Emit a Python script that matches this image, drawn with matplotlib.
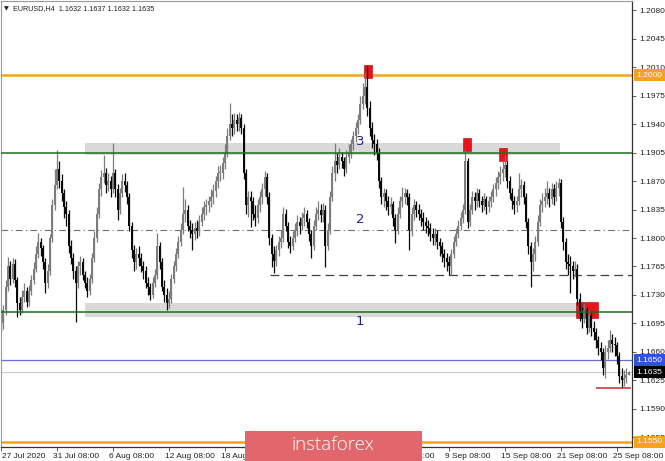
import matplotlib
matplotlib.use('Agg')
import matplotlib.pyplot as plt
import matplotlib.transforms as mtransforms
from matplotlib.patches import Rectangle
import numpy as np

# ---------------- data (EURUSD H4) ----------------
first_open = 1.1705
closes = [
    1.1695, 1.1712, 1.1740, 1.1765, 1.1750, 1.1768,
    1.1748, 1.1720, 1.1712, 1.1728, 1.1735, 1.1722,
    1.1735, 1.1748, 1.1762, 1.1780, 1.1795, 1.1788,
    1.1770, 1.1745, 1.1760, 1.1800, 1.1840, 1.1865,
    1.1885, 1.1870, 1.1855, 1.1838, 1.1830, 1.1790,
    1.1775, 1.1760, 1.1745, 1.1765, 1.1770, 1.1755,
    1.1745, 1.1735, 1.1750, 1.1775, 1.1800, 1.1830,
    1.1860, 1.1875, 1.1880, 1.1865, 1.1870, 1.1860,
    1.1880, 1.1860, 1.1835, 1.1855, 1.1870, 1.1865,
    1.1850, 1.1815, 1.1785, 1.1770, 1.1780, 1.1775,
    1.1765, 1.1760, 1.1745, 1.1740, 1.1730, 1.1745,
    1.1755, 1.1790, 1.1770, 1.1740, 1.1730, 1.1720,
    1.1725, 1.1750, 1.1765, 1.1780, 1.1795, 1.1810,
    1.1830, 1.1835, 1.1815, 1.1810, 1.1805, 1.1812,
    1.1808, 1.1820, 1.1830, 1.1838, 1.1840, 1.1845,
    1.1850, 1.1858, 1.1870, 1.1880, 1.1880, 1.1892,
    1.1905, 1.1925, 1.1940, 1.1935, 1.1945, 1.1940,
    1.1948, 1.1935, 1.1880, 1.1840, 1.1850, 1.1845,
    1.1830, 1.1825, 1.1840, 1.1850, 1.1860, 1.1875,
    1.1850, 1.1800, 1.1780, 1.1772, 1.1785, 1.1795,
    1.1800, 1.1830, 1.1815, 1.1795, 1.1790, 1.1800,
    1.1810, 1.1820, 1.1815, 1.1825, 1.1830, 1.1820,
    1.1805, 1.1790, 1.1815, 1.1830, 1.1835, 1.1828,
    1.1835, 1.1790, 1.1810, 1.1850, 1.1880, 1.1895,
    1.1890, 1.1900, 1.1895, 1.1885, 1.1900, 1.1905,
    1.1915, 1.1925, 1.1935, 1.1945, 1.1965, 1.1975,
    1.1985, 1.1960, 1.1935, 1.1920, 1.1915, 1.1905,
    1.1870, 1.1850, 1.1855, 1.1845, 1.1838, 1.1842,
    1.1825, 1.1810, 1.1830, 1.1845, 1.1850, 1.1855,
    1.1850, 1.1810, 1.1830, 1.1840, 1.1835, 1.1830,
    1.1825, 1.1820, 1.1815, 1.1812, 1.1805, 1.1800,
    1.1805, 1.1795, 1.1790, 1.1780, 1.1775, 1.1770,
    1.1765, 1.1780, 1.1795, 1.1805, 1.1815, 1.1825,
    1.1835, 1.1895, 1.1820, 1.1835, 1.1850, 1.1845,
    1.1855, 1.1845, 1.1840, 1.1848, 1.1838, 1.1845,
    1.1850, 1.1860, 1.1868, 1.1875, 1.1880, 1.1885,
    1.1890, 1.1870, 1.1855, 1.1845, 1.1840, 1.1845,
    1.1860, 1.1865, 1.1850, 1.1820, 1.1790, 1.1770,
    1.1780, 1.1795, 1.1820, 1.1840, 1.1845, 1.1850,
    1.1855, 1.1848, 1.1860, 1.1850, 1.1862, 1.1868,
    1.1820, 1.1795, 1.1770, 1.1768, 1.1765, 1.1760,
    1.1762, 1.1725, 1.1708, 1.1700, 1.1712, 1.1690,
    1.1705, 1.1690, 1.1685, 1.1675, 1.1665, 1.1660,
    1.1640, 1.1660, 1.1665, 1.1675, 1.1670, 1.1668,
    1.1655, 1.1630, 1.1625, 1.1628, 1.1632, 1.1635,
]
highs = [
    1.1712, 1.1718, 1.1748, 1.1777, 1.1772, 1.1776,
    1.1774, 1.1752, 1.1728, 1.1736, 1.1745, 1.1740,
    1.1742, 1.1755, 1.1770, 1.1790, 1.1806, 1.1800,
    1.1792, 1.1775, 1.1768, 1.1805, 1.1848, 1.1885,
    1.1908, 1.1895, 1.1878, 1.1860, 1.1845, 1.1835,
    1.1798, 1.1782, 1.1765, 1.1772, 1.1778, 1.1775,
    1.1760, 1.1752, 1.1756, 1.1782, 1.1808, 1.1838,
    1.1868, 1.1884, 1.1902, 1.1886, 1.1880, 1.1876,
    1.1917, 1.1885, 1.1866, 1.1862, 1.1878, 1.1880,
    1.1870, 1.1855, 1.1820, 1.1792, 1.1788, 1.1790,
    1.1782, 1.1772, 1.1765, 1.1752, 1.1745, 1.1752,
    1.1762, 1.1806, 1.1795, 1.1775, 1.1748, 1.1738,
    1.1735, 1.1756, 1.1772, 1.1788, 1.1802, 1.1818,
    1.1863, 1.1848, 1.1840, 1.1822, 1.1818, 1.1820,
    1.1822, 1.1828, 1.1838, 1.1845, 1.1848, 1.1852,
    1.1860, 1.1866, 1.1876, 1.1888, 1.1890, 1.1900,
    1.1915, 1.1935, 1.1966, 1.1952, 1.1953, 1.1952,
    1.1955, 1.1952, 1.1940, 1.1885, 1.1858, 1.1858,
    1.1850, 1.1840, 1.1848, 1.1858, 1.1868, 1.1882,
    1.1880, 1.1856, 1.1805, 1.1790, 1.1792, 1.1802,
    1.1810, 1.1838, 1.1836, 1.1820, 1.1802, 1.1808,
    1.1818, 1.1828, 1.1826, 1.1832, 1.1838, 1.1835,
    1.1825, 1.1810, 1.1822, 1.1838, 1.1845, 1.1842,
    1.1843, 1.1840, 1.1818, 1.1858, 1.1888, 1.1917,
    1.1905, 1.1910, 1.1906, 1.1900, 1.1908, 1.1915,
    1.1922, 1.1932, 1.1942, 1.1952, 1.1975, 1.1990,
    1.2003, 1.2011, 1.1968, 1.1942, 1.1928, 1.1922,
    1.1910, 1.1875, 1.1862, 1.1860, 1.1852, 1.1850,
    1.1846, 1.1830, 1.1838, 1.1852, 1.1863, 1.1862,
    1.1860, 1.1855, 1.1838, 1.1848, 1.1846, 1.1842,
    1.1836, 1.1832, 1.1826, 1.1822, 1.1818, 1.1812,
    1.1812, 1.1810, 1.1800, 1.1795, 1.1786, 1.1782,
    1.1778, 1.1786, 1.1802, 1.1812, 1.1822, 1.1832,
    1.1842, 1.1908, 1.1898, 1.1842, 1.1858, 1.1856,
    1.1862, 1.1860, 1.1852, 1.1855, 1.1852, 1.1852,
    1.1858, 1.1866, 1.1875, 1.1882, 1.1888, 1.1895,
    1.1902, 1.1895, 1.1876, 1.1862, 1.1852, 1.1852,
    1.1880, 1.1872, 1.1870, 1.1855, 1.1825, 1.1795,
    1.1788, 1.1802, 1.1828, 1.1848, 1.1855, 1.1862,
    1.1870, 1.1862, 1.1868, 1.1866, 1.1870, 1.1874,
    1.1872, 1.1826, 1.1800, 1.1780, 1.1778, 1.1772,
    1.1772, 1.1768, 1.1732, 1.1715, 1.1720, 1.1715,
    1.1712, 1.1710, 1.1698, 1.1690, 1.1680, 1.1672,
    1.1665, 1.1668, 1.1675, 1.1687, 1.1682, 1.1678,
    1.1672, 1.1660, 1.1640, 1.1638, 1.1640, 1.1637,
]
lows = [
    1.1684, 1.1688, 1.1706, 1.1735, 1.1742, 1.1745,
    1.1740, 1.1703, 1.1705, 1.1708, 1.1722, 1.1715,
    1.1716, 1.1730, 1.1744, 1.1758, 1.1775, 1.1778,
    1.1762, 1.1732, 1.1738, 1.1755, 1.1795, 1.1835,
    1.1860, 1.1862, 1.1845, 1.1825, 1.1815, 1.1782,
    1.1768, 1.1750, 1.1697, 1.1738, 1.1755, 1.1748,
    1.1738, 1.1728, 1.1730, 1.1745, 1.1770, 1.1795,
    1.1825, 1.1852, 1.1868, 1.1855, 1.1858, 1.1850,
    1.1855, 1.1850, 1.1822, 1.1830, 1.1850, 1.1856,
    1.1842, 1.1808, 1.1776, 1.1760, 1.1762, 1.1765,
    1.1758, 1.1750, 1.1738, 1.1730, 1.1724, 1.1726,
    1.1740, 1.1750, 1.1762, 1.1735, 1.1722, 1.1712,
    1.1714, 1.1720, 1.1745, 1.1760, 1.1775, 1.1790,
    1.1805, 1.1820, 1.1808, 1.1800, 1.1785, 1.1798,
    1.1800, 1.1802, 1.1815, 1.1822, 1.1828, 1.1832,
    1.1838, 1.1842, 1.1850, 1.1862, 1.1870, 1.1872,
    1.1885, 1.1900, 1.1920, 1.1925, 1.1928, 1.1932,
    1.1932, 1.1928, 1.1872, 1.1830, 1.1826, 1.1814,
    1.1822, 1.1815, 1.1818, 1.1832, 1.1842, 1.1852,
    1.1842, 1.1792, 1.1764, 1.1757, 1.1765, 1.1778,
    1.1788, 1.1795, 1.1808, 1.1788, 1.1782, 1.1785,
    1.1795, 1.1802, 1.1805, 1.1810, 1.1815, 1.1812,
    1.1796, 1.1776, 1.1785, 1.1810, 1.1822, 1.1820,
    1.1820, 1.1764, 1.1785, 1.1805, 1.1845, 1.1870,
    1.1880, 1.1885, 1.1886, 1.1876, 1.1880, 1.1892,
    1.1898, 1.1908, 1.1918, 1.1928, 1.1940, 1.1958,
    1.1965, 1.1950, 1.1925, 1.1910, 1.1902, 1.1896,
    1.1862, 1.1842, 1.1838, 1.1835, 1.1828, 1.1830,
    1.1815, 1.1794, 1.1805, 1.1825, 1.1838, 1.1842,
    1.1840, 1.1785, 1.1802, 1.1822, 1.1826, 1.1822,
    1.1815, 1.1810, 1.1806, 1.1802, 1.1796, 1.1792,
    1.1792, 1.1786, 1.1778, 1.1770, 1.1764, 1.1760,
    1.1755, 1.1755, 1.1775, 1.1790, 1.1800, 1.1810,
    1.1818, 1.1830, 1.1812, 1.1815, 1.1830, 1.1835,
    1.1838, 1.1838, 1.1832, 1.1834, 1.1830, 1.1832,
    1.1838, 1.1844, 1.1852, 1.1860, 1.1866, 1.1870,
    1.1875, 1.1862, 1.1848, 1.1836, 1.1830, 1.1832,
    1.1840, 1.1850, 1.1842, 1.1812, 1.1780, 1.1740,
    1.1760, 1.1772, 1.1790, 1.1815, 1.1832, 1.1838,
    1.1842, 1.1838, 1.1842, 1.1840, 1.1845, 1.1852,
    1.1812, 1.1785, 1.1762, 1.1755, 1.1732, 1.1750,
    1.1752, 1.1718, 1.1698, 1.1690, 1.1695, 1.1682,
    1.1685, 1.1680, 1.1675, 1.1665, 1.1656, 1.1650,
    1.1632, 1.1628, 1.1652, 1.1660, 1.1660, 1.1655,
    1.1645, 1.1622, 1.1616, 1.1618, 1.1622, 1.1632,
]

x_tick_bars = [0, 24, 48, 72, 96, 120, 144, 168, 192, 216, 240, 264]
x_tick_labels = ['27 Jul 2020', '31 Jul 08:00', '6 Aug 08:00', '12 Aug 08:00',
                 '18 Aug 08:00', '24 Aug 08:00', '28 Aug 08:00', '3 Sep 08:00',
                 '9 Sep 08:00', '15 Sep 08:00', '21 Sep 08:00', '25 Sep 08:00']
y_ticks = [1.2080, 1.2045, 1.2010, 1.1975, 1.1940, 1.1905, 1.1870, 1.1835,
           1.1800, 1.1765, 1.1730, 1.1695, 1.1660, 1.1625, 1.1590, 1.1555]

orange_levels = [1.2000, 1.1550]
green_levels = [1.1905, 1.1709]
mid_level = 1.1810
support_level = 1.1755
support_start_bar = 115.3
blue_level = 1.1650
bid_level = 1.1635
low_mark_level = 1.1616
low_mark_bars = [255, 270]

zone_bars = [(36, 239.6), (36, 252)]
zone_prices = [(1.1902, 1.1917), (1.1703, 1.1720)]
zone_label_text = ['1', '2', '3']
zone_label_prices = [1.1697, 1.1823, 1.1918]
zone_label_bar = 153.9

touch_bars = [157.3, 199.7, 215.2]
touch_prices = [1.2004, 1.1915, 1.1902]
break_bars = (246.3, 256.0)
break_prices = (1.1702, 1.1721)

price_tags = [(1.2000, '#f5a21c'), (1.1650, '#2f55d4'), (1.1635, '#000000'), (1.1550, '#f5a21c')]

title = 'EURUSD,H4  1.1632 1.1637 1.1632 1.1635'

# ---------------- figure ----------------
W, H = 665, 461
fig = plt.figure(figsize=(W / 100, H / 100), dpi=100)
fig.patch.set_facecolor('white')
ax = fig.add_axes([0.5 / W, (H - 447) / H, (632 - 0.5) / W, (447 - 1) / H])
ax.set_facecolor('white')

ax.set_xlim(-0.21, 270.45)
ax.set_ylim(1.15433, 1.20911)

c = np.array(closes)
o = np.array([first_open] + closes[:-1])
hi = np.maximum(np.array(highs), np.maximum(o, c))
lo = np.minimum(np.array(lows), np.minimum(o, c))
xb = np.arange(len(c))
up = c >= o
UP_COL, DN_COL = '#7c7c7c', '#0a0a0a'
cols = np.where(up, UP_COL, DN_COL)

# zones (background)
for (b0, b1), (p0, p1) in zip(zone_bars, zone_prices):
    ax.add_patch(Rectangle((b0, p0), b1 - b0, p1 - p0, fc='#d9d9d9', ec='none', zorder=0.5))

# horizontal levels
for lv in orange_levels:
    ax.axhline(lv, color='#f5a21c', lw=1.8, zorder=1)
for lv in green_levels:
    ax.axhline(lv, color='#1e6e1e', lw=1.1, zorder=3)
ax.axhline(mid_level, color='#707070', lw=0.8, ls=(0, (6, 3, 1, 3)), zorder=1)
ax.hlines(support_level, support_start_bar, 271, color='#404040', lw=0.9, ls=(0, (7, 4)), zorder=1)
ax.axhline(blue_level, color='#6a6ad8', lw=0.9, zorder=1)
ax.axhline(bid_level, color='#cfcfcf', lw=0.9, zorder=1)
ax.hlines(low_mark_level, low_mark_bars[0], low_mark_bars[1], color='#c83c3c', lw=1.2, zorder=3)

# touch markers (red)
mw, mh = 3.4, 0.0016
for b, p in zip(touch_bars, touch_prices):
    ax.add_patch(Rectangle((b - mw / 2, p - mh / 2), mw, mh, fc='#e8141c', ec='#b00000', lw=0.4, zorder=1.5))
ax.add_patch(Rectangle((break_bars[0], break_prices[0]), break_bars[1] - break_bars[0],
                       break_prices[1] - break_prices[0], fc='#e8141c', ec='#b00000', lw=0.4, zorder=1.5))

# candles
ax.vlines(xb, lo, hi, colors=cols, lw=0.9, zorder=2)
body = np.maximum(np.abs(c - o), 0.00008)
ax.bar(xb, body, bottom=np.minimum(o, c), width=0.88, color=cols, lw=0, zorder=2.1)

# zone labels
for t, p in zip(zone_label_text, zone_label_prices):
    ax.text(zone_label_bar, p, t, color='#22228a', fontsize=9.5, ha='center', va='center',
            family='DejaVu Sans', zorder=4)

# axes styling
for s in ['left', 'top']:
    ax.spines[s].set_color('#9a9a9a')
    ax.spines[s].set_linewidth(0.8)
for s in ['right', 'bottom']:
    ax.spines[s].set_color('#333333')
    ax.spines[s].set_linewidth(0.9)

ax.yaxis.tick_right()
ax.set_yticks(y_ticks)
ax.set_yticklabels(['%.4f' % v for v in y_ticks])
ax.tick_params(axis='y', right=True, left=False, length=3, width=0.6, color='#444444',
               pad=2, labelsize=6, labelcolor='#222222')
ax.set_xticks(x_tick_bars)
ax.set_xticklabels(x_tick_labels)
ax.tick_params(axis='x', length=3, width=0.6, color='#444444', pad=1.5,
               labelsize=6, labelcolor='#222222')
for k, lab in enumerate(ax.get_xticklabels()):
    dx = 1.0 if k == 0 else -3.0
    offset = mtransforms.ScaledTranslation(dx / 72, 0, fig.dpi_scale_trans)
    lab.set_horizontalalignment('left')
    lab.set_transform(lab.get_transform() + offset)
    lab.set_family('Liberation Sans')
for lab in ax.get_yticklabels():
    lab.set_family('Liberation Sans')

# price tags on the right axis
trans = mtransforms.blended_transform_factory(ax.transAxes, ax.transData)
for p, col in price_tags:
    ax.text(1.0 + 4.5 / 631.5, p, '%.4f' % p, transform=trans, ha='left', va='center',
            fontsize=6, color='white', family='Liberation Sans', zorder=10, clip_on=False,
            bbox=dict(boxstyle='square,pad=0.3', fc=col, ec=col, lw=0))

# title
fig.text(4 / W, 1 - 9 / H, '\u25bc', fontsize=4.5, va='center', ha='left', color='#222222')
fig.text(13 / W, 1 - 9 / H, title, fontsize=5.2, va='center', ha='left', color='#222222',
         family='Liberation Sans')

# watermark
fig.add_artist(Rectangle((245 / W, 0), (422 - 245) / W, 30 / H, transform=fig.transFigure,
                         fc='#e2676c', ec='none', zorder=5))
fig.text(333 / W, 1 - 445 / H, 'instaforex', color='white', fontsize=13.5, ha='center',
         va='center', family='Open Sans', fontweight='light', zorder=6)

fig.savefig('out.png', dpi=100, facecolor='white')
